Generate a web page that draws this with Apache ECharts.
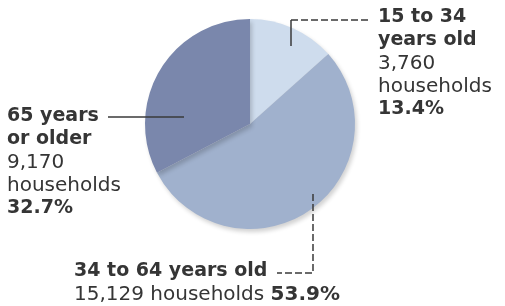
<!DOCTYPE html>
<html>
<head>
<meta charset="utf-8">
<script src="https://cdn.jsdelivr.net/npm/echarts@6/dist/echarts.min.js"></script>
<style>
  html, body { margin: 0; padding: 0; background: #fff; }
  #chart { width: 505px; height: 306px; }
</style>
</head>
<body>
<div id="chart"></div>
<script>
// age groups, clockwise from 12 o'clock
const ageGroups = ['15 to 34 years old', '34 to 64 years old', '65 years or older']
const nameLines = [['15 to 34', 'years old'], ['34 to 64 years old'], ['65 years', 'or older']]
const households = [3760, 15129, 9170]
const percents = [13.4, 53.9, 32.7]
const sliceColors = ['#cedced', '#a0b1cd', '#7a87ac']

const fmtNum = (v) => v.toLocaleString('en-US')

// where each label block sits (top-left corner)
const labelSpots = [
  { x: 378, y: 6 },
  { x: 74, y: 260 },
  { x: 7, y: 105 },
]

// leader lines: [points, dashed]
const leaders = [
  [[[291, 46], [291, 20]], false],
  [[[291, 20], [370, 20]], true],
  [[[313, 194], [313, 273], [277, 273]], true],
  [[[184, 117], [108, 117]], false],
]

const chart = echarts.init(document.getElementById('chart'))

const textColor = '#353535'
const lineColor = '#3a3a3a'
const rich = {
  b: { fontFamily: 'DejaVu Sans', fontWeight: 'bold', fontSize: 19, lineHeight: 23, color: textColor },
  b2: { fontFamily: 'DejaVu Sans', fontWeight: 'bold', fontSize: 20, lineHeight: 23, color: textColor },
  r: { fontFamily: 'DejaVu Sans', fontSize: 20, lineHeight: 23, color: textColor },
}

chart.setOption({
  backgroundColor: '#fff',
  animation: false,
  graphic: leaders.map(([points, dashed]) => ({
    type: 'polyline',
    z: 100,
    silent: true,
    shape: { points },
    style: {
      stroke: lineColor,
      lineWidth: 1.5,
      fill: null,
      lineDash: dashed ? [7, 3] : null,
    },
  })),
  series: [
    {
      type: 'pie',
      center: [250, 124],
      radius: 105,
      startAngle: 90,
      clockwise: true,
      silent: true,
      data: ageGroups.map((name, i) => ({
        name,
        value: households[i],
        itemStyle: { color: sliceColors[i] },
      })),
      itemStyle: {
        borderWidth: 0,
        shadowBlur: 4,
        shadowOffsetX: 2,
        shadowOffsetY: 3,
        shadowColor: 'rgba(0,0,0,0.18)',
      },
      label: {
        show: true,
        position: 'outside',
        align: 'left',
        overflow: 'none',
        width: 300,
        rich,
        formatter: (p) => {
          const i = p.dataIndex
          const title = nameLines[i].map((s) => `{b|${s}}`).join('\n')
          if (i === 1) {
            return `${title}\n{r|${fmtNum(households[i])} households }{b2|${percents[i]}%}`
          }
          return `${title}\n{r|${fmtNum(households[i])}}\n{r|households}\n{b|${percents[i]}%}`
        },
      },
      labelLine: { show: false },
      labelLayout: (params) => {
        const spot = labelSpots[params.dataIndex]
        return {
          x: spot.x,
          y: spot.y,
          align: 'left',
          verticalAlign: 'top',
        }
      },
    },
  ],
})
</script>
</body>
</html>
